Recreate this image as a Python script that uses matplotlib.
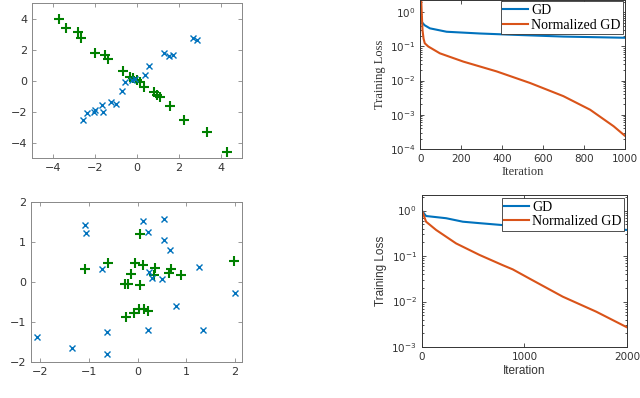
import numpy as np
import matplotlib.pyplot as plt

# data
# top-left scatter
tl_plus_x = [-3.72, -3.37, -2.81, -2.66, -1.98, -1.50, -1.39, -0.68, -0.32, -0.19, 0.0, 0.13, 0.32, 0.82, 0.95, 1.08, 1.58, 2.25, 3.32, 4.27]
tl_plus_y = [3.96, 3.42, 3.16, 2.73, 1.81, 1.63, 1.38, 0.62, 0.26, 0.17, 0.02, -0.09, -0.39, -0.73, -0.92, -1.03, -1.63, -2.56, -3.29, -4.58]
tl_x_x = [2.66, 2.85, 1.31, 1.55, 1.74, 0.58, 0.38, -0.24, -0.55, -0.73, -1.66, -1.63, -1.23, -0.98, -2.06, -2.40, -1.98, -2.59, -0.10]
tl_x_y = [2.77, 2.62, 1.81, 1.59, 1.63, 0.95, 0.34, 0.02, -0.09, -0.67, -1.55, -2.00, -1.38, -1.51, -2.02, -2.11, -1.91, -2.54, 0.08]

# bottom-left scatter
bl_plus_x = [-1.08, -0.60, -0.05, 0.12, 0.36, -0.13, 0.34, 0.64, 0.68, 0.90, 1.98, -0.26, -0.19, 0.05, 0.05, -0.24, -0.07, 0.04, 0.13, 0.21]
bl_plus_y = [0.31, 0.46, 0.46, 0.41, 0.35, 0.19, 0.16, 0.23, 0.31, 0.16, 0.53, -0.06, -0.05, -0.09, 1.19, -0.87, -0.79, -0.67, -0.69, -0.73]
bl_x_x = [-1.08, -1.07, 0.11, 0.55, 0.21, 0.55, 0.66, -0.73, 0.24, 0.29, 0.50, 1.27, 2.0, 0.80, -2.07, -1.35, -0.62, -0.62, 0.21, 1.35]
bl_x_y = [1.42, 1.21, 1.52, 1.57, 1.23, 1.05, 0.79, 0.33, 0.25, 0.10, 0.08, 0.37, -0.29, -0.61, -1.38, -1.66, -1.24, -1.80, -1.19, -1.19]

# top-right losses
tr_gd_it = [0, 5, 20, 46, 128, 291, 455, 700, 1000]
tr_gd = [0.85, 0.53, 0.42, 0.34, 0.27, 0.24, 0.22, 0.195, 0.18]
tr_ngd_it = [0, 3, 6, 10, 15, 21, 38, 95, 210, 373, 537, 700, 831, 946, 1000]
tr_ngd = [8.0, 3.0, 1.0, 0.3, 0.17, 0.124, 0.1, 0.063, 0.036, 0.0186, 0.0085, 0.0035, 0.0014, 0.00046, 0.000245]

# bottom-right losses
br_gd_it = [0, 42, 237, 400, 560, 886, 1211, 1536, 2000]
br_gd = [1.0, 0.76, 0.68, 0.57, 0.53, 0.46, 0.43, 0.41, 0.376]
br_ngd_it = [0, 42, 140, 334, 562, 789, 886, 1049, 1373, 1698, 2000]
br_ngd = [1.03, 0.57, 0.375, 0.19, 0.106, 0.063, 0.051, 0.032, 0.0128, 0.006, 0.0027]

blue = '#0072BD'
orange = '#D95319'
green = '#008000'

fig = plt.figure(figsize=(6.4, 3.98), dpi=100)

def style(ax, col, size):
    for s in ax.spines.values():
        s.set_color(col)
        s.set_linewidth(0.7)
    ax.tick_params(which='both', direction='in', top=True, right=True, colors=col,
                   labelcolor='#333333', labelsize=size, width=0.6)
    ax.tick_params(which='major', length=3)
    ax.tick_params(which='minor', length=1.5)

# top-left
ax1 = fig.add_axes([0.05, 0.603, 0.328, 0.389])
ax1.plot(tl_plus_x, tl_plus_y, '+', color=green, ms=7, mew=1.5)
ax1.plot(tl_x_x, tl_x_y, 'x', color=blue, ms=5, mew=1.0)
ax1.set_xlim(-5, 5)
ax1.set_ylim(-5, 5)
ax1.set_xticks([-4, -2, 0, 2, 4])
ax1.set_yticks([-4, -2, 0, 2, 4])
style(ax1, '#888888', 8)

# bottom-left
ax2 = fig.add_axes([0.048, 0.0905, 0.33, 0.403])
ax2.plot(bl_plus_x, bl_plus_y, '+', color=green, ms=7, mew=1.5)
ax2.plot(bl_x_x, bl_x_y, 'x', color=blue, ms=5, mew=1.0)
ax2.set_xlim(-2.2, 2.15)
ax2.set_ylim(-2, 2)
ax2.set_xticks([-2, -1, 0, 1, 2])
ax2.set_yticks([-2, -1, 0, 1, 2])
style(ax2, '#888888', 8)

# top-right
ax3 = fig.add_axes([0.657, 0.626, 0.319, 0.374])
ax3.semilogy(tr_gd_it, tr_gd, color=blue, lw=1.5, label='GD')
ax3.semilogy(tr_ngd_it, tr_ngd, color=orange, lw=1.5, label='Normalized GD')
ax3.set_xlim(0, 1000)
ax3.set_ylim(1e-4, 2.3)
ax3.set_yticks([1e-4, 1e-3, 1e-2, 1e-1, 1e0])
ax3.set_xticks([0, 200, 400, 600, 800, 1000])
style(ax3, '#333333', 7.5)
ax3.set_xlabel('Iteration', family='Liberation Serif', fontsize=9, color='#333333', labelpad=2)
ax3.set_ylabel('Training Loss', family='Liberation Serif', fontsize=9, color='#333333', labelpad=3)
leg = ax3.legend(loc='upper right', prop={'family': 'Liberation Serif', 'size': 10},
                 handlelength=1.8, handletextpad=0.2, borderaxespad=0.1, borderpad=0.2,
                 labelspacing=0.1, fancybox=False, framealpha=1)
leg.get_frame().set_edgecolor('#333333')
leg.get_frame().set_linewidth(0.6)

# bottom-right
ax4 = fig.add_axes([0.659, 0.128, 0.321, 0.382])
ax4.semilogy(br_gd_it, br_gd, color=blue, lw=1.5, label='GD')
ax4.semilogy(br_ngd_it, br_ngd, color=orange, lw=1.5, label='Normalized GD')
ax4.set_xlim(0, 2000)
ax4.set_ylim(1e-3, 2.2)
ax4.set_yticks([1e-3, 1e-2, 1e-1, 1e0])
ax4.set_xticks([0, 1000, 2000])
style(ax4, '#333333', 7.5)
ax4.set_xlabel('Iteration', family='Liberation Sans', fontsize=8.5, color='#333333', labelpad=2)
ax4.set_ylabel('Training Loss', family='Liberation Sans', fontsize=8.5, color='#333333', labelpad=3)
leg = ax4.legend(loc='upper right', prop={'family': 'Liberation Serif', 'size': 10},
                 handlelength=1.8, handletextpad=0.2, borderaxespad=0.2, borderpad=0.2,
                 labelspacing=0.1, fancybox=False, framealpha=1)
leg.get_frame().set_edgecolor('#333333')
leg.get_frame().set_linewidth(0.6)

fig.savefig('out.png', dpi=100)
